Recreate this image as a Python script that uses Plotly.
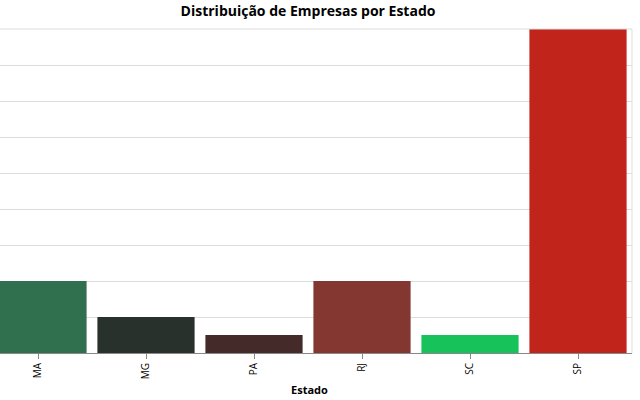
import plotly.graph_objects as go

estados = ["MA", "MG", "PA", "RJ", "SC", "SP"]
empresas = [4, 2, 1, 4, 1, 18]
cores = ["#31704e", "#29312d", "#452a2a", "#843631", "#17c25b", "#c0241a"]
y_ticks = [0, 2, 4, 6, 8, 10, 12, 14, 16, 18]

fig = go.Figure(go.Bar(x=estados, y=empresas, marker_color=cores, marker_line_width=0))

font = "Open Sans, Noto Sans, sans-serif"
fig.update_layout(
    width=640, height=400,
    margin=dict(l=0, r=8, t=29, b=47, pad=0, autoexpand=False),
    paper_bgcolor="white", plot_bgcolor="white",
    bargap=0.1,
    showlegend=False,
    title=dict(text="<b>Distribuição de Empresas por Estado</b>", x=308/640, xanchor="center",
               y=1 - 11/400, yanchor="middle", font=dict(family=font, size=14, color="black")),
    font=dict(family=font, color="black"),
)
fig.update_xaxes(
    type="category", range=[-38/108, 5.5], automargin=False,
    tickangle=-90, ticks="outside", ticklen=5, tickcolor="#888",
    showline=True, linecolor="#888", linewidth=1,
    tickfont=dict(family=font, size=10, color="black"),
    showgrid=False,
)
fig.update_yaxes(
    range=[0, 18], tickvals=y_ticks, showticklabels=False, automargin=False,
    showgrid=True, gridcolor="#ddd", gridwidth=1, zeroline=False,
)
fig.add_annotation(text="<b>Estado</b>", xref="paper", yref="paper", x=309/632, y=-36/324,
                   xanchor="center", yanchor="middle", showarrow=False,
                   font=dict(family=font, size=11, color="black"))
fig.add_shape(type="line", xref="paper", yref="paper", x0=1, x1=1, y0=0, y1=1,
              line=dict(color="#ddd", width=1))
fig.add_shape(type="line", xref="paper", yref="paper", x0=0, x1=1, y0=1, y1=1,
              line=dict(color="#ddd", width=1))
fig.write_html("out.html", config={"displayModeBar": False},
               post_script="document.body.style.margin='0';document.body.style.overflow='hidden';")
